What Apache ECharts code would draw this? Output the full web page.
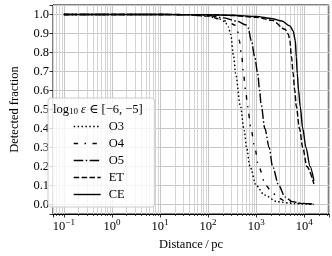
<!DOCTYPE html>
<html><head><meta charset="utf-8">
<script src="https://cdn.jsdelivr.net/npm/echarts@6/dist/echarts.min.js"></script>
<style>html,body{margin:0;padding:0;background:#fff}#c{width:332px;height:256px}</style>
</head><body><div id="c"></div>
<script>
const FONT = "'Liberation Serif','DejaVu Serif',serif";
const seriesNames = ['O3', 'O4', 'O5', 'ET', 'CE'];
const xAxisName = 'Distance\u2009/\u2009pc';
const yAxisName = 'Detected fraction';

const o3Dist = [0.1, 10, 40, 100, 178, 224, 263, 295, 339, 372, 468, 562, 631, 741, 1000, 1479, 2692, 6310, 15849];
const o3Frac = [1.0, 1.0, 0.998, 0.99, 0.975, 0.962, 0.935, 0.895, 0.78, 0.69, 0.52, 0.39, 0.30, 0.20, 0.10, 0.05, 0.015, 0.004, 0.0];

const o4Dist = [0.1, 10, 40, 100, 178, 282, 355, 398, 447, 501, 543, 603, 661, 776, 933, 1122, 1585, 2138, 2818, 4266, 10000, 15849];
const o4Frac = [1.0, 1.0, 0.998, 0.99, 0.977, 0.957, 0.945, 0.93, 0.862, 0.776, 0.69, 0.60, 0.517, 0.40, 0.30, 0.20, 0.10, 0.065, 0.035, 0.015, 0.004, 0.002];

const o5Dist = [0.1, 10, 40, 100, 214, 398, 617, 676, 794, 933, 1072, 1175, 1259, 1514, 1862, 2188, 2951, 3981, 5623, 8511, 15849];
const o5Frac = [1.0, 1.0, 0.999, 0.995, 0.982, 0.965, 0.945, 0.93, 0.862, 0.776, 0.69, 0.603, 0.53, 0.40, 0.30, 0.20, 0.10, 0.04, 0.015, 0.006, 0.002];

const etDist = [0.1, 10, 100, 316, 1000, 2158, 3981, 4656, 5012, 5420, 5861, 6310, 6823, 7943, 9290, 11324, 15849];
const etFrac = [1.0, 1.0, 0.999, 0.995, 0.985, 0.969, 0.922, 0.896, 0.862, 0.776, 0.69, 0.603, 0.517, 0.40, 0.30, 0.20, 0.108];

const ceDist = [0.1, 10, 100, 316, 1000, 2158, 3420, 5012, 5861, 6516, 6823, 7145, 7586, 8204, 9290, 10814, 13183, 15849];
const ceFrac = [1.0, 1.0, 0.999, 0.996, 0.99, 0.978, 0.966, 0.94, 0.914, 0.862, 0.776, 0.69, 0.603, 0.517, 0.40, 0.30, 0.20, 0.125];

const xMin = 0.0594, xMax = 32660, yMin = -0.05, yMax = 1.05;

const dists = [o3Dist, o4Dist, o5Dist, etDist, ceDist];
const fracs = [o3Frac, o4Frac, o5Frac, etFrac, ceFrac];
const dashes = [[1.5, 2.4], [4.3, 6.5, 1.5, 6.5], [9.6, 2.4, 1.5, 2.4], [5.5, 2.4], 'solid'];

// minor log gridline positions (2..9 x 10^k) inside the axis range
const minorX = [];
for (let k = -2; k <= 4; k++) for (let m = 2; m <= 9; m++) {
  const v = m * Math.pow(10, k);
  if (v > xMin && v < xMax) minorX.push([v, 0]);
}

const chart = echarts.init(document.getElementById('c'), null, {renderer: 'canvas'});
const lineSeries = seriesNames.map((n, i) => ({
  name: n, type: 'line', z: 3,
  data: dists[i].map((d, j) => [d, fracs[i][j]]),
  symbol: 'none', showSymbol: false,
  smooth: 0.3, smoothMonotone: 'x',
  lineStyle: {color: '#000', width: 1.4, type: dashes[i]},
  itemStyle: {color: '#000'}
}));

const minorSeries = {
  type: 'custom', z: 1, silent: true, clip: false,
  data: minorX,
  renderItem: (params, api) => {
    const x = api.value(0);
    const top = api.coord([x, yMax]);
    const bot = api.coord([x, yMin]);
    const px = Math.round(top[0]) + 0.5;
    return {type: 'group', children: [
      {type: 'line', shape: {x1: px, y1: top[1], x2: px, y2: bot[1]}, style: {stroke: '#d4d4d4', lineWidth: 1}},
      {type: 'line', shape: {x1: px, y1: bot[1], x2: px, y2: bot[1] + 2}, style: {stroke: '#000', lineWidth: 0.7}}
    ]};
  }
};

chart.setOption({
  animation: false,
  backgroundColor: '#fff',
  grid: {left: 42, right: 3, top: 5, bottom: 39, show: true, borderColor: '#000', borderWidth: 1, backgroundColor: 'transparent'},
  xAxis: {
    type: 'log', logBase: 10, min: xMin, max: xMax,
    name: xAxisName, nameLocation: 'middle', nameGap: 24,
    nameTextStyle: {fontFamily: FONT, fontSize: 12.5, color: '#000'},
    axisLine: {show: true, onZero: false, lineStyle: {color: '#000', width: 1}},
    axisTick: {show: true, inside: false, length: 3.5, lineStyle: {color: '#000', width: 0.8}},
    splitLine: {show: true, lineStyle: {color: '#c6c6c6', width: 1}},
    axisLabel: {
      margin: 4,
      formatter: v => {
        const l = Math.log10(v);
        const e = Math.round(l);
        if (Math.abs(l - e) > 1e-6) return '';
        return '{b|10}{e|' + (e < 0 ? '−' + (-e) : e) + '}';
      },
      rich: {
        b: {fontFamily: FONT, fontSize: 12.5, color: '#000', verticalAlign: 'bottom', lineHeight: 14},
        e: {fontFamily: FONT, fontSize: 9, color: '#000', verticalAlign: 'bottom', padding: [0, 0, 6, 0]}
      }
    }
  },
  yAxis: {
    type: 'value', min: yMin, max: yMax, splitNumber: 11,
    name: yAxisName, nameLocation: 'middle', nameGap: 32, nameRotate: 90,
    nameTextStyle: {fontFamily: FONT, fontSize: 12.5, color: '#000'},
    axisLine: {show: true, onZero: false, lineStyle: {color: '#000', width: 1}},
    axisTick: {show: true, inside: false, length: 3.5, lineStyle: {color: '#000', width: 0.8}},
    splitLine: {show: true, lineStyle: {color: '#c6c6c6', width: 1}},
    axisLabel: {
      margin: 4, fontFamily: FONT, fontSize: 12.5, color: '#000',
      formatter: v => (Math.abs(v * 10 - Math.round(v * 10)) > 1e-6 ? '' : v.toFixed(1))
    }
  },
  legend: {
    orient: 'vertical', left: 48, top: 98,
    padding: [22, 30, 6, 25],
    itemWidth: 27, itemHeight: 14, itemGap: 4,
    backgroundColor: 'rgba(255,255,255,0.8)', borderColor: '#cccccc', borderWidth: 1, borderRadius: 3,
    textStyle: {fontFamily: FONT, fontSize: 12.5, color: '#000', padding: [0, 0, 0, 3]},
    lineStyle: {width: 1.4},
    itemStyle: {color: 'rgba(0,0,0,0)', borderColor: 'rgba(0,0,0,0)', borderWidth: 0, opacity: 0},
    data: seriesNames
  },
  graphic: [{
    type: 'text', left: 53, top: 103, z: 10,
    style: {
      text: '{t|log}{s|10}{t| }{i|ε}{t| ∈ [−6, −5]}',
      rich: {
        t: {fontFamily: FONT, fontSize: 12.5, fill: '#000', verticalAlign: 'top'},
        s: {fontFamily: FONT, fontSize: 9, fill: '#000', verticalAlign: 'bottom', padding: [4, 0, 0, 0]},
        i: {fontFamily: FONT, fontSize: 12.5, fontStyle: 'italic', fill: '#000', verticalAlign: 'top'}
      }
    }
  }],
  series: [minorSeries].concat(lineSeries)
});
</script>
</body></html>
